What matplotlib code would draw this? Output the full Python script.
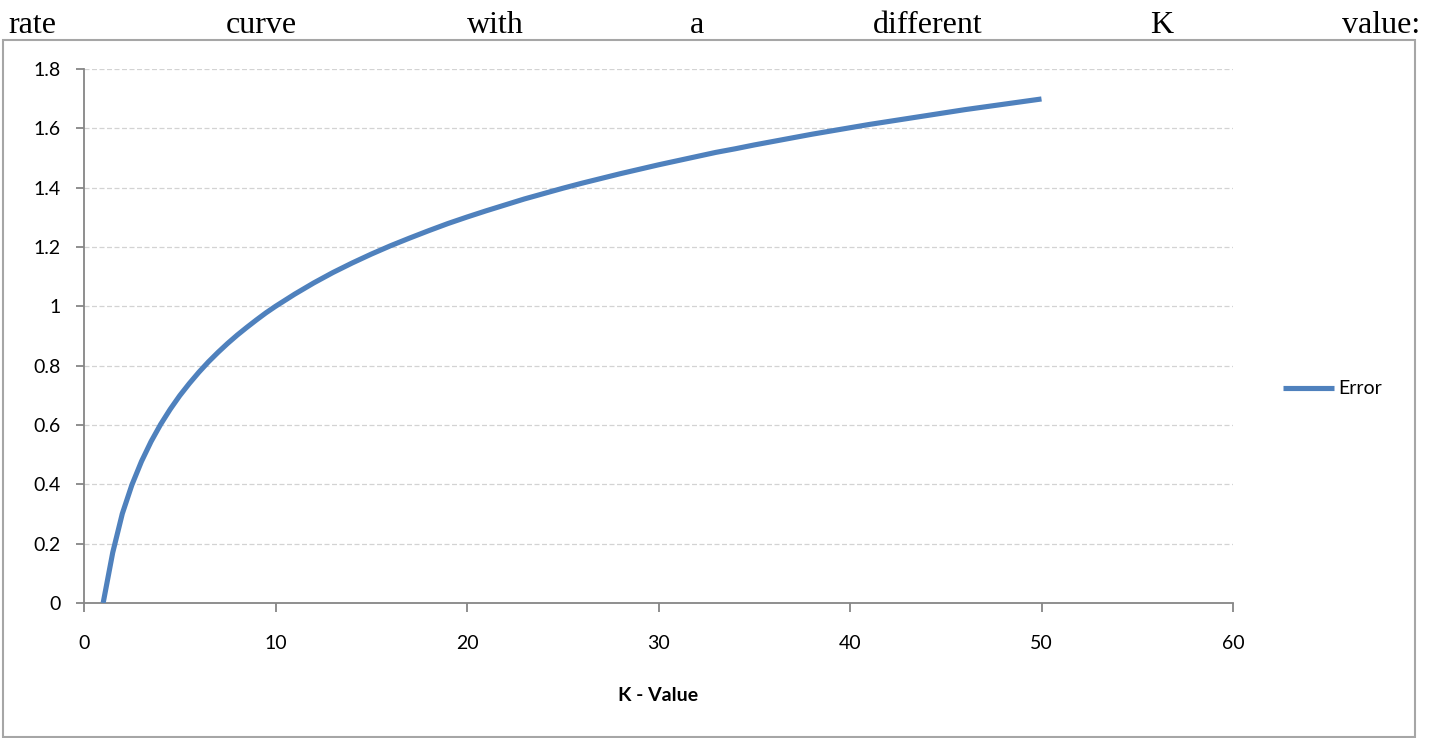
import matplotlib
matplotlib.use("Agg")
import matplotlib.pyplot as plt
from matplotlib.patches import Rectangle

# --- data (denser near the start, where the curve bends) ---
k_values = [1, 1.5, 2, 2.5, 3, 3.5, 4, 4.5, 5, 5.5, 6, 6.5, 7, 7.5, 8, 8.5, 9, 9.5,
            10, 11, 12, 13, 14, 15, 16, 17, 18, 19, 20,
            21, 22, 23, 24, 25, 26, 27, 28, 29, 30,
            31, 32, 33, 34, 35, 36, 37, 38, 39, 40,
            41, 42, 43, 44, 45, 46, 47, 48, 49, 50]
error = [0.000, 0.170, 0.301, 0.398, 0.477, 0.544, 0.602, 0.653, 0.699, 0.740,
         0.778, 0.813, 0.845, 0.875, 0.903, 0.929, 0.954, 0.978,
         1.000, 1.041, 1.079, 1.114, 1.146, 1.176, 1.204, 1.230, 1.255, 1.279, 1.301,
         1.322, 1.342, 1.362, 1.380, 1.398, 1.415, 1.431, 1.447, 1.462, 1.477,
         1.491, 1.505, 1.519, 1.531, 1.544, 1.556, 1.568, 1.580, 1.591, 1.602,
         1.613, 1.623, 1.633, 1.643, 1.653, 1.663, 1.672, 1.681, 1.690, 1.699]
x_ticks = [0, 10, 20, 30, 40, 50, 60]
y_ticks = [0, 0.2, 0.4, 0.6, 0.8, 1, 1.2, 1.4, 1.6, 1.8]
y_labels = ["0", "0.2", "0.4", "0.6", "0.8", "1", "1.2", "1.4", "1.6", "1.8"]
header_words = ["rate", "curve", "with", "a", "different", "K", "value:"]

W, H = 1435, 738
fig = plt.figure(figsize=(W / 100, H / 100), dpi=100)
plt.rcParams['font.family'] = ['Lato', 'DejaVu Sans']

# justified text line above the chart
word_x = [8, 226, 467, 690, 873, 1150, 1342]
for word, px in zip(header_words, word_x):
    fig.text(px / W, 1 - 33 / H, word, fontsize=23, family='Liberation Serif',
             ha='left', va='baseline', color='black')

# chart frame
fig.add_artist(Rectangle((3 / W, 1 / H), (1415 - 3) / W, (737 - 40) / H,
                         transform=fig.transFigure, fill=False,
                         edgecolor='#a6a6a6', linewidth=1.5))

ax = fig.add_axes([84 / W, 135 / H, (1233 - 84) / W, (603 - 69) / H])
line, = ax.plot(k_values, error, color='#4F81BD', linewidth=3.7,
                solid_capstyle='butt', solid_joinstyle='round', label='Error', zorder=3)

ax.set_xlim(0, 60)
ax.set_ylim(0, 1.8)
ax.set_xticks(x_ticks)
ax.set_yticks(y_ticks)
ax.set_yticklabels(y_labels)

for s in ['top', 'right']:
    ax.spines[s].set_visible(False)
for s in ['left', 'bottom']:
    ax.spines[s].set_color('#868686')
    ax.spines[s].set_linewidth(1.3)

ax.tick_params(axis='y', direction='out', length=6, width=1.3, color='#868686',
               pad=11, labelsize=14, labelcolor='black')
ax.tick_params(axis='x', direction='out', length=6.5, width=1.3, color='#868686',
               pad=16.5, labelsize=14, labelcolor='black')

for yv in y_ticks[1:]:
    ax.axhline(yv, color='#d3d3d3', linewidth=0.9, linestyle=(0, (4, 2)), zorder=1)

ax.set_xlabel("K - Value", fontsize=14, fontweight='bold', labelpad=25)

fig.legend(handles=[line], loc='center left', frameon=False,
           bbox_to_anchor=(1283 / W, 1 - 389 / H), borderpad=0, borderaxespad=0,
           handlelength=2.6, handletextpad=0.25, fontsize=14)

fig.savefig("out.png", dpi=100)
